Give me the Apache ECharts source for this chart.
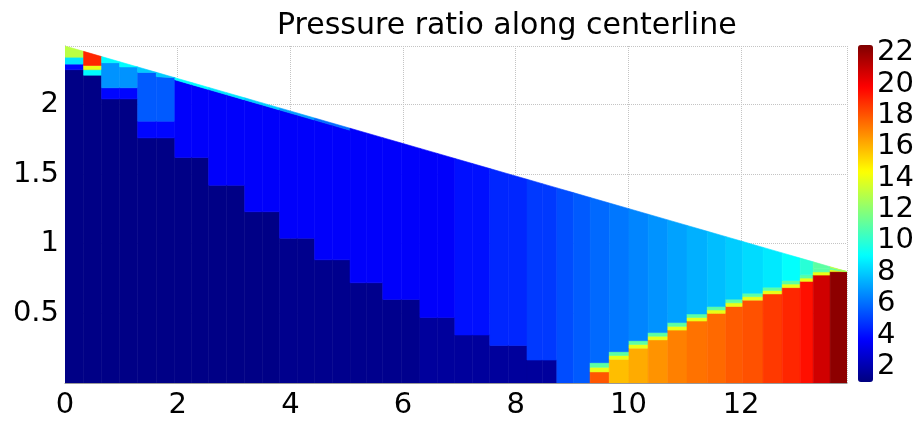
<!DOCTYPE html>
<html>
<head>
<meta charset="utf-8">
<script src="https://cdn.jsdelivr.net/npm/echarts@6/dist/echarts.min.js"></script>
<style>
  html, body { margin: 0; padding: 0; background: #ffffff; }
  #chart { width: 920px; height: 422px; }
</style>
</head>
<body>
<div id="chart"></div>
<script>
// Mesh column edges along the centerline (x)
const xEdges = [0, 0.33, 0.65, 0.97, 1.29, 1.62, 1.95, 2.25, 2.55, 2.87, 3.19, 3.50, 3.81, 4.12, 4.43,
  4.75, 5.06, 5.35, 5.64, 5.97, 6.30, 6.61, 6.92, 7.23, 7.54, 7.87, 8.20, 8.47, 8.73, 9.02, 9.32,
  9.66, 10.01, 10.35, 10.70, 11.04, 11.40, 11.73, 12.03, 12.39, 12.73, 13.05, 13.28, 13.58, 13.88];

// Upper wall height at inlet and outlet
const wallHeights = [2.42, 0.80];

// Low-pressure core: height of its top and its pressure ratio, per column
const darkTop = [2.25, 2.25, 2.04, 2.04, 1.76, 1.76, 1.62, 1.62, 1.42, 1.42, 1.23, 1.23, 1.04, 1.04,
  0.885, 0.885, 0.72, 0.72, 0.60, 0.60, 0.47, 0.47, 0.345, 0.345, 0.27, 0.27, 0.165, 0.165,
  0, 0, 0, 0, 0, 0, 0, 0, 0, 0, 0, 0, 0, 0, 0, 0];
const darkVal = [1.15, 1.15, 1.15, 1.15, 1.15, 1.15, 1.15, 1.15, 1.15, 1.15, 1.15, 1.15, 1.3, 1.3,
  1.3, 1.3, 1.3, 1.3, 1.3, 1.3, 1.6, 1.6, 1.6, 1.6, 1.6, 1.6, 1.6, 1.6,
  0, 0, 0, 0, 0, 0, 0, 0, 0, 0, 0, 0, 0, 0, 0, 0];

// Main flow region pressure ratio, per column
const midVal = [3.8, 3.8, 3.8, 3.8, 3.8, 3.8, 3.6, 3.6, 3.6, 3.6, 3.6, 3.6, 3.6, 3.6,
  3.6, 3.6, 3.6, 3.6, 3.6, 3.6, 3.6, 3.6, 4.0, 4.0, 4.5, 4.5, 4.9, 4.9,
  5.3, 5.6, 5.9, 6.2, 6.5, 6.8, 7.1, 7.4, 7.7, 8.0, 8.3, 8.6, 9.1, 9.9, 11.0, 13.0];

// Reflected-shock region near the outlet: top of hot cells, top of shock band, pressure ratio
const redTop = [0, 0, 0, 0, 0, 0, 0, 0, 0, 0, 0, 0, 0, 0, 0, 0, 0, 0, 0, 0, 0, 0, 0, 0, 0, 0, 0, 0, 0, 0,
  0.08, 0.17, 0.25, 0.31, 0.38, 0.445, 0.50, 0.55, 0.595, 0.64, 0.685, 0.73, 0.775, 0.80];
const bandTop = [0, 0, 0, 0, 0, 0, 0, 0, 0, 0, 0, 0, 0, 0, 0, 0, 0, 0, 0, 0, 0, 0, 0, 0, 0, 0, 0, 0, 0, 0,
  0.146, 0.225, 0.304, 0.362, 0.434, 0.496, 0.549, 0.602, 0.645, 0.688, 0.736, 0.777, 0.82, 0.83];
const redVal = [0, 0, 0, 0, 0, 0, 0, 0, 0, 0, 0, 0, 0, 0, 0, 0, 0, 0, 0, 0, 0, 0, 0, 0, 0, 0, 0, 0, 0, 0,
  18.0, 15.8, 16.2, 16.7, 17.1, 17.4, 17.6, 17.9, 18.1, 18.6, 19.0, 19.5, 20.8, 22.2];
const bandVals = [14, 11];

// Leading-edge cells under the wall (first six columns): bottoms listed from the wall down
const upperBottoms = [[2.34, 2.29], [2.28, 2.25, 2.21], [2.30, 2.12], [2.27, 2.12], [2.23, 1.88], [2.20, 1.88]];
const upperVals = [[13, 8.5], [19, 14, 9], [9, 6.8], [9, 6.8], [8, 5.6], [8, 5.6]];

// Thin wall layer pressure ratio, per column (0 = none)
const wallBandVal = [0, 0, 0, 0, 0, 0, 9, 9, 8.5, 8.5, 8, 8, 7, 7, 6, 6, 0, 0, 0, 0, 0, 0, 0, 0,
  0, 0, 0, 0, 0, 0, 0, 0, 0, 0, 0, 0, 0, 0, 0, 0, 0, 0, 0, 0];
const wallBandDepth = 0.015;

const colorbarTicks = [2, 4, 6, 8, 10, 12, 14, 16, 18, 20, 22];
const jet = ['#00007F', '#0000FF', '#007FFF', '#00FFFF', '#7FFF7F', '#FFFF00', '#FF7F00', '#FF0000', '#7F0000'];

const xMax = xEdges[xEdges.length - 1];
function wallAt(x) {
  return wallHeights[0] + (wallHeights[1] - wallHeights[0]) * x / xMax;
}
function level(b, x) {
  return typeof b === 'function' ? b(x) : b;
}

// Build one trapezoid per mesh cell: [x0, x1, yBottom0, yBottom1, yTop0, yTop1, value]
const cells = [];
for (let i = 0; i < xEdges.length - 1; i++) {
  const layers = [];
  if (redTop[i] > 0) {
    layers.push([0, redVal[i]]);
    layers.push([redTop[i], bandVals[0]]);
    layers.push([(redTop[i] + bandTop[i]) / 2, bandVals[1]]);
    layers.push([bandTop[i], midVal[i]]);
  } else if (darkTop[i] > 0) {
    layers.push([0, darkVal[i]]);
    layers.push([darkTop[i], midVal[i]]);
  } else {
    layers.push([0, midVal[i]]);
  }
  if (i < upperBottoms.length) {
    for (let k = upperBottoms[i].length - 1; k >= 0; k--) {
      layers.push([upperBottoms[i][k], upperVals[i][k]]);
    }
  }
  if (wallBandVal[i] > 0) {
    layers.push([x => wallAt(x) - wallBandDepth, wallBandVal[i]]);
  }
  const x0 = xEdges[i], x1 = xEdges[i + 1];
  for (let j = 0; j < layers.length; j++) {
    const b = layers[j][0];
    const t = j + 1 < layers.length ? layers[j + 1][0] : wallAt;
    const yb0 = Math.min(level(b, x0), wallAt(x0));
    const yb1 = Math.min(level(b, x1), wallAt(x1));
    const yt0 = Math.min(level(t, x0), wallAt(x0));
    const yt1 = Math.min(level(t, x1), wallAt(x1));
    if (yt0 - yb0 <= 0 && yt1 - yb1 <= 0) continue;
    cells.push([x0, x1, yb0, yb1, yt0, yt1, layers[j][1]]);
  }
}

const chart = echarts.init(document.getElementById('chart'), null, { renderer: 'canvas' });
const labelFont = { fontFamily: 'DejaVu Sans', fontSize: 29, color: '#000' };

chart.setOption({
  animation: false,
  backgroundColor: '#ffffff',
  title: {
    text: 'Pressure ratio along centerline',
    left: 272,
    top: 6,
    textStyle: { fontFamily: 'DejaVu Sans', fontSize: 30, fontWeight: 'normal', color: '#000' }
  },
  grid: [
    { left: 65, right: 73, top: 46, bottom: 39 },
    { left: 858, top: 45, width: 15, height: 337 }
  ],
  xAxis: [
    {
      type: 'value', gridIndex: 0, min: 0, max: xMax, interval: 2,
      axisLine: { show: true, lineStyle: { color: '#9a9a9a', width: 1 } },
      axisTick: { show: false },
      axisLabel: Object.assign({ margin: 8, showMaxLabel: false }, labelFont),
      splitLine: { show: true, lineStyle: { color: '#c4c4c4', type: 'dotted', width: 1 } }
    },
    { type: 'value', gridIndex: 1, min: 0, max: 1, show: false }
  ],
  yAxis: [
    {
      type: 'value', gridIndex: 0, min: 0, max: wallHeights[0], interval: 0.5,
      axisLine: { show: true, lineStyle: { color: '#9a9a9a', width: 1 } },
      axisTick: { show: false },
      axisLabel: Object.assign({
        margin: 6, showMaxLabel: false,
        formatter: v => (v === 0 ? '' : String(v))
      }, labelFont),
      splitLine: { show: true, lineStyle: { color: '#c4c4c4', type: 'dotted', width: 1 } }
    },
    {
      type: 'value', gridIndex: 1, min: 1, max: 22.5, position: 'right',
      axisLine: { show: false },
      axisTick: { show: false },
      splitLine: { show: false },
      axisLabel: Object.assign({ margin: 4, customValues: colorbarTicks }, labelFont)
    }
  ],
  visualMap: {
    type: 'continuous',
    min: 1,
    max: 22.5,
    dimension: 6,
    seriesIndex: 0,
    calculable: false,
    hoverLink: false,
    left: 858,
    top: 45,
    itemWidth: 15,
    itemHeight: 337,
    padding: 0,
    text: null,
    showLabel: false,
    inRange: { color: jet }
  },
  series: [
    {
      type: 'custom',
      xAxisIndex: 0,
      yAxisIndex: 0,
      clip: true,
      encode: { x: [0, 1], y: [2, 3, 4, 5] },
      data: cells,
      renderItem: function (params, api) {
        const pts = [
          api.coord([api.value(0), api.value(2)]),
          api.coord([api.value(1), api.value(3)]),
          api.coord([api.value(1), api.value(5)]),
          api.coord([api.value(0), api.value(4)])
        ];
        const c = api.visual('color');
        return {
          type: 'polygon',
          shape: { points: pts },
          style: { fill: c, stroke: c, lineWidth: 0.6 }
        };
      }
    }
  ]
});
</script>
</body>
</html>
